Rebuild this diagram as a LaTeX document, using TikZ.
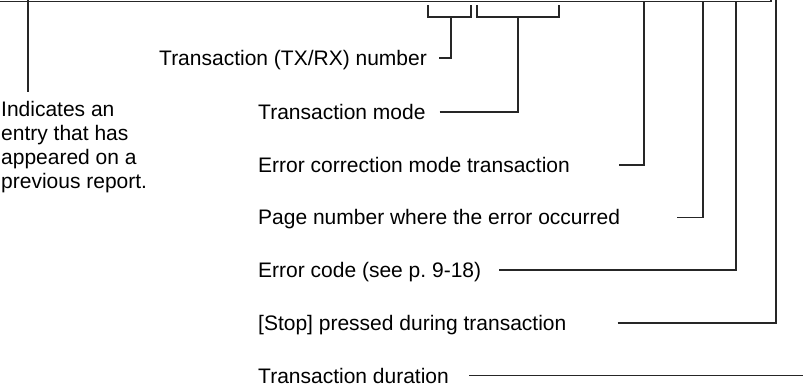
\documentclass[tikz,border=0pt]{standalone}
\usepackage{fontspec}
\setmainfont{Liberation Sans}
\usetikzlibrary{positioning}
\frenchspacing

\begin{document}
\begin{tikzpicture}[x=1bp, y=-1bp, node distance=29.3bp]
    \tikzstyle{lbl} = [inner sep=0pt, text height=19bp, text depth=4bp, anchor=west, font=\fontsize{21bp}{24bp}\selectfont]
    \tikzstyle{note} = [inner sep=0pt, anchor=north west, align=left, font=\fontsize{21bp}{24bp}\selectfont]
    \tikzstyle{leader} = [line width=1.6bp, black!85]
    \useasboundingbox (0,0) rectangle (803,387);

    % edge of the report and the two column brackets
    \draw [leader] (0,1.5) -- (771,1.5) -- (771,0);
    \draw [leader] (428,5) |- (471,17) -- (471,5);
    \draw [leader] (477,5) |- (559,17) -- (559,5);

    \coordinate (prevtop) at (28,0);
    \coordinate (numtop) at (451,17);
    \coordinate (modetop) at (518,17);
    \coordinate (ecmtop) at (644,1.5);
    \coordinate (pagetop) at (703,1.5);
    \coordinate (codetop) at (736,1.5);
    \coordinate (stoptop) at (776,0);
    \coordinate (durend) at (803,0);

    \node [note] (prev) at (1,101) {Indicates an\\entry that has\\appeared on a\\previous report.};
    \node [lbl] (txnum) at (159,58) {Transaction (TX/RX) number};
    \node [lbl] (mode) at (258,112) {Transaction mode};
    \node [lbl, below=of mode.south west, anchor=north west] (ecm) {Error correction mode transaction};
    \node [lbl, below=of ecm.south west, anchor=north west] (page) {Page number where the error occurred};
    \node [lbl, below=of page.south west, anchor=north west] (code) {Error code (see p.\ 9-18)};
    \node [lbl, below=of code.south west, anchor=north west] (stop) {[Stop] pressed during transaction};
    \node [lbl, below=of stop.south west, anchor=north west] (dur) {Transaction duration};

    \coordinate (prevend) at ([yshift=9bp]prev.north west -| prevtop);
    \draw [leader] (prevtop) -- (prevend);
    \draw [leader] ([xshift=12bp]txnum.east) -| (numtop);
    \draw [leader] ([xshift=14bp]mode.east) -| (modetop);
    \draw [leader] ([xshift=49bp]ecm.east) -| (ecmtop);
    \draw [leader] ([xshift=57bp]page.east) -| (pagetop);
    \draw [leader] ([xshift=18bp]code.east) -| (codetop);
    \draw [leader] ([xshift=51bp]stop.east) -| (stoptop);
    \draw [leader] ([xshift=20bp]dur.east) -- (dur.east -| durend);
\end{tikzpicture}
\end{document}
